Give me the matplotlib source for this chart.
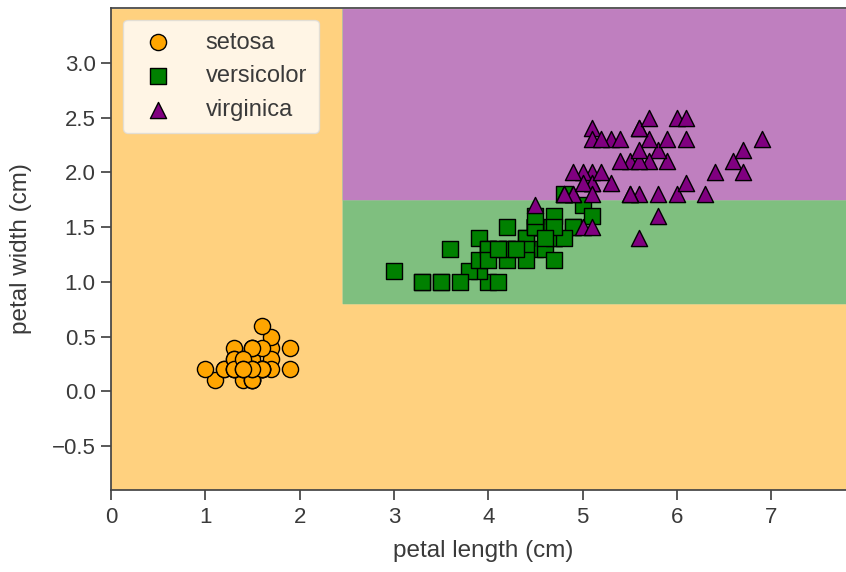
import numpy as np
import matplotlib
matplotlib.use("Agg")
import matplotlib.pyplot as plt

# iris petal measurements (cm)
setosa_len = [1.4, 1.4, 1.3, 1.5, 1.4, 1.7, 1.4, 1.5, 1.4, 1.5, 1.5, 1.6, 1.4, 1.1, 1.2, 1.5, 1.3,
              1.4, 1.7, 1.5, 1.7, 1.5, 1.0, 1.7, 1.9, 1.6, 1.6, 1.5, 1.4, 1.6, 1.6, 1.5, 1.5, 1.4,
              1.5, 1.2, 1.3, 1.5, 1.3, 1.5, 1.3, 1.3, 1.3, 1.6, 1.9, 1.4, 1.6, 1.4, 1.5, 1.4]
setosa_wid = [0.2, 0.2, 0.2, 0.2, 0.2, 0.4, 0.3, 0.2, 0.2, 0.1, 0.2, 0.2, 0.1, 0.1, 0.2, 0.4, 0.4,
              0.3, 0.3, 0.3, 0.2, 0.4, 0.2, 0.5, 0.2, 0.2, 0.4, 0.2, 0.2, 0.2, 0.2, 0.4, 0.1, 0.2,
              0.1, 0.2, 0.2, 0.1, 0.2, 0.2, 0.3, 0.3, 0.2, 0.6, 0.4, 0.3, 0.2, 0.2, 0.2, 0.2]
versi_len = [4.7, 4.5, 4.9, 4.0, 4.6, 4.5, 4.7, 3.3, 4.6, 3.9, 3.5, 4.2, 4.0, 4.7, 3.6, 4.4, 4.5,
             4.1, 4.5, 3.9, 4.8, 4.0, 4.9, 4.7, 4.3, 4.4, 4.8, 5.0, 4.5, 3.5, 3.8, 3.7, 3.9, 5.1,
             4.5, 4.5, 4.7, 4.4, 4.1, 4.0, 4.4, 4.6, 4.0, 3.3, 4.2, 4.2, 4.2, 4.3, 3.0, 4.1]
versi_wid = [1.4, 1.5, 1.5, 1.3, 1.5, 1.3, 1.6, 1.0, 1.3, 1.4, 1.0, 1.5, 1.0, 1.4, 1.3, 1.4, 1.5,
             1.0, 1.5, 1.1, 1.8, 1.3, 1.5, 1.2, 1.3, 1.4, 1.4, 1.7, 1.5, 1.0, 1.1, 1.0, 1.2, 1.6,
             1.5, 1.6, 1.5, 1.3, 1.3, 1.3, 1.2, 1.4, 1.2, 1.0, 1.3, 1.2, 1.3, 1.3, 1.1, 1.3]
virg_len = [6.0, 5.1, 5.9, 5.6, 5.8, 6.6, 4.5, 6.3, 5.8, 6.1, 5.1, 5.3, 5.5, 5.0, 5.1, 5.3, 5.5,
            6.7, 6.9, 5.0, 5.7, 4.9, 6.7, 4.9, 5.7, 6.0, 4.8, 4.9, 5.6, 5.8, 6.1, 6.4, 5.6, 5.1,
            5.6, 6.1, 5.6, 5.5, 4.8, 5.4, 5.6, 5.1, 5.1, 5.9, 5.7, 5.2, 5.0, 5.2, 5.4, 5.1]
virg_wid = [2.5, 1.9, 2.1, 1.8, 2.2, 2.1, 1.7, 1.8, 1.8, 2.5, 2.0, 1.9, 2.1, 2.0, 2.4, 2.3, 1.8,
            2.2, 2.3, 1.5, 2.3, 2.0, 2.0, 1.8, 2.1, 1.8, 1.8, 1.8, 2.1, 1.6, 1.9, 2.0, 2.2, 1.5,
            1.4, 2.3, 2.4, 1.8, 1.8, 2.1, 2.4, 2.3, 1.9, 2.3, 2.5, 2.3, 1.9, 2.0, 2.3, 1.8]

species = ["setosa", "versicolor", "virginica"]
colors = ["orange", "green", "purple"]
markers = ["o", "s", "^"]

# decision boundaries of the fitted classifier
len_split = 2.45
wid_low = 0.8
wid_high = 1.75


def predict(pl, pw):
    out = np.zeros_like(pl, dtype=int)
    rest = (pl > len_split) & (pw > wid_low)
    out[rest & (pw <= wid_high)] = 1
    out[rest & (pw > wid_high)] = 2
    return out


plt.rcParams["font.family"] = ["Liberation Sans", "DejaVu Sans"]
text_c = "#3a3a3a"

fig = plt.figure(figsize=(8.46, 5.72), dpi=100)
ax = fig.add_axes([0.1312, 0.1434, 0.8806, 0.8427])

all_len = setosa_len + versi_len + virg_len
all_wid = setosa_wid + versi_wid + virg_wid
x_min, x_max = min(all_len) - 1, max(all_len) + 1
y_min, y_max = min(all_wid) - 1, max(all_wid) + 1
xx, yy = np.meshgrid(np.arange(x_min, x_max, 0.01), np.arange(y_min, y_max, 0.01))
zz = predict(xx, yy)
ax.contourf(xx, yy, zz, levels=[-0.5, 0.5, 1.5, 2.5],
            colors=colors, alpha=0.5, antialiased=True)

groups = [(setosa_len, setosa_wid), (versi_len, versi_wid), (virg_len, virg_wid)]
for (pl, pw), name, c, m in zip(groups, species, colors, markers):
    ax.scatter(pl, pw, s=135, c=c, marker=m, edgecolors="black",
               linewidths=1.0, label=name, zorder=3)

ax.set_xlim(x_min, x_max)
ax.set_ylim(y_min, y_max)
ax.set_xticks(range(0, 8))
ax.set_yticks([-0.5, 0.0, 0.5, 1.0, 1.5, 2.0, 2.5, 3.0])
ax.set_xlabel("petal length (cm)", fontsize=17.5, color=text_c, labelpad=9)
ax.set_ylabel("petal width (cm)", fontsize=17.5, color=text_c, labelpad=14)
ax.tick_params(direction="out", length=7, width=1.25, colors="#444444",
               labelsize=16, labelcolor=text_c)
ax.tick_params(axis="x", pad=5)
ax.tick_params(axis="y", pad=4)
for sp in ax.spines.values():
    sp.set_color("#444444")
    sp.set_linewidth(1.25)

leg = ax.legend(loc="upper left", fontsize=17, frameon=True, borderpad=0.5,
                labelspacing=0.5, handletextpad=1.0, borderaxespad=0.5,
                markerscale=1.0)
leg.get_frame().set_facecolor("white")
leg.get_frame().set_edgecolor("#dddddd")
leg.get_frame().set_alpha(0.8)
for t in leg.get_texts():
    t.set_color(text_c)

fig.savefig("out.png", dpi=100)
